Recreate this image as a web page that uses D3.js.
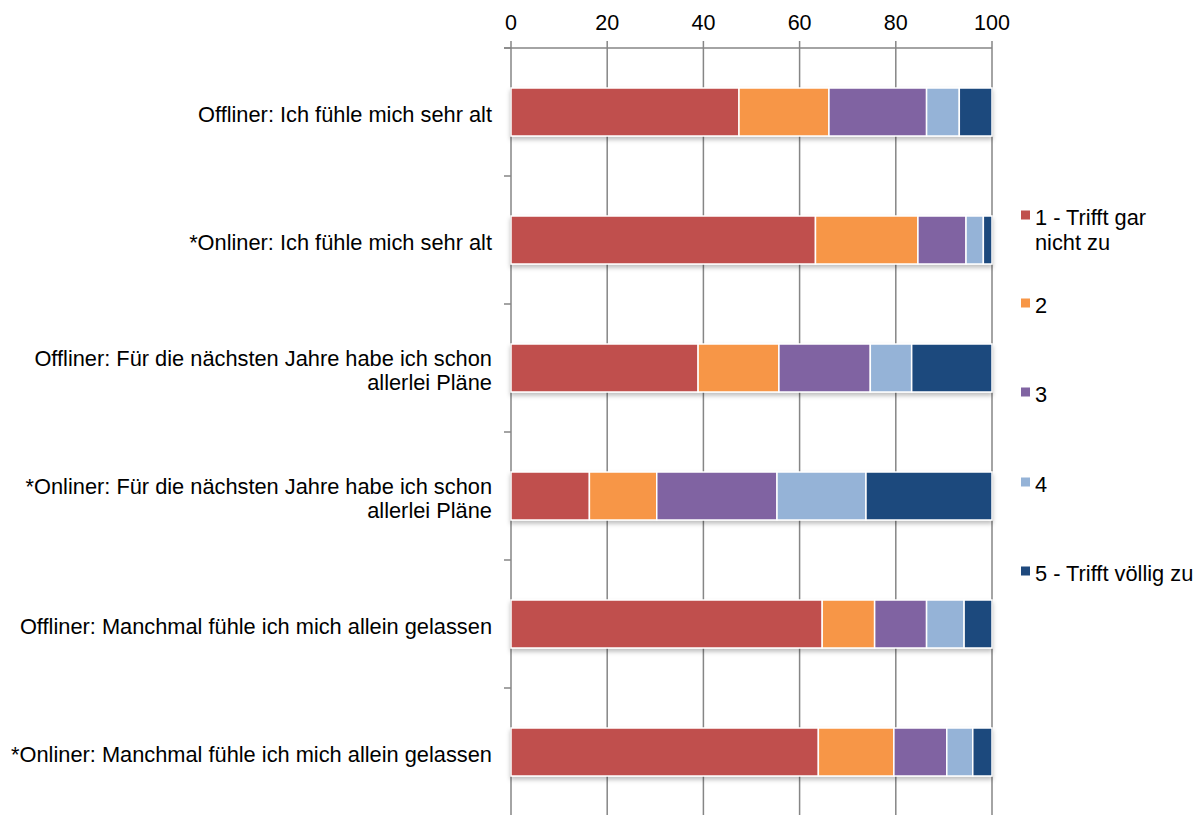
<!DOCTYPE html>
<html><head><meta charset="utf-8">
<script src="https://cdn.jsdelivr.net/npm/d3@7"></script>
<style>body{margin:0;background:#fff}svg{display:block}text{font-family:"Liberation Sans",Arial,sans-serif;fill:#000}</style>
</head><body>
<svg id="c" width="1195" height="815"></svg>
<script>
const categories = [
  "Offliner: Ich fühle mich sehr alt",
  "*Onliner: Ich fühle mich sehr alt",
  "Offliner: Für die nächsten Jahre habe ich schon|allerlei Pläne",
  "*Onliner: Für die nächsten Jahre habe ich schon|allerlei Pläne",
  "Offliner: Manchmal fühle ich mich allein gelassen",
  "*Onliner: Manchmal fühle ich mich allein gelassen"
];
const seriesNames = ["1 - Trifft gar|nicht zu", "2", "3", "4", "5 - Trifft völlig zu"];
const s1 = [47.4, 63.3, 38.9, 16.3, 64.7, 63.9];
const s2 = [18.7, 21.3, 16.8, 14.0, 10.9, 15.7];
const s3 = [20.3, 10.0, 19.0, 25.0, 10.8, 11.0];
const s4 = [6.8, 3.6, 8.6, 18.5, 7.8, 5.4];
const s5 = [6.8, 1.8, 16.7, 26.2, 5.8, 4.0];
const xTicks = [0, 20, 40, 60, 80, 100];
const colors = ["#C0504D", "#F79646", "#8064A2", "#95B3D7", "#1F497D"];

const series = [s1, s2, s3, s4, s5];
const svg = d3.select("#c");
const x = d3.scaleLinear().domain([0, 100]).range([511, 992]);
const y = d3.scaleBand().domain(categories).range([48, 816]).paddingInner(0.625).paddingOuter(0.3125);

const defs = svg.append("defs");
const f = defs.append("filter").attr("id","sh").attr("x","-5%").attr("y","-20%").attr("width","110%").attr("height","150%");
f.append("feDropShadow").attr("dx",0).attr("dy",3).attr("stdDeviation",2).attr("flood-color","#000").attr("flood-opacity",0.25);

// gridlines
svg.append("g").selectAll("line").data(xTicks).join("line")
  .attr("x1", d => x(d)).attr("x2", d => x(d)).attr("y1", 41).attr("y2", 815)
  .attr("stroke", "#868686").attr("stroke-width", 1.5);
// top axis line
svg.append("line").attr("x1", 504).attr("x2", x(100)).attr("y1", 48).attr("y2", 48)
  .attr("stroke", "#868686").attr("stroke-width", 1.5);
// tick labels
svg.append("g").selectAll("text").data(xTicks).join("text")
  .attr("x", d => x(d)).attr("y", 30).attr("text-anchor", "middle").attr("font-size", 21.5).text(d => d);

// y axis ticks at band boundaries
const step = y.step();
const bounds = d3.range(0, categories.length + 1).map(i => 48 + i * step);
svg.append("g").selectAll("line").data(bounds).join("line")
  .attr("x1", 504).attr("x2", 511).attr("y1", d => d).attr("y2", d => d)
  .attr("stroke", "#868686").attr("stroke-width", 1.5);

// stacked bars
const stacked = categories.map((c, i) => {
  let acc = 0;
  return series.map((s, k) => { const r = {c, k, x0: acc, x1: acc + s[i]}; acc += s[i]; return r; });
}).flat();
svg.append("g").attr("filter","url(#sh)").selectAll("rect").data(stacked).join("rect")
  .attr("x", d => x(d.x0)).attr("width", d => x(d.x1) - x(d.x0))
  .attr("y", d => y(d.c)).attr("height", y.bandwidth())
  .attr("fill", d => colors[d.k]).attr("stroke", "#fff").attr("stroke-width", 1.5);

// category labels
const lab = svg.append("g").selectAll("text").data(categories).join("text")
  .attr("text-anchor", "end").attr("font-size", 21.8);
lab.each(function(d) {
  const lines = d.split("|");
  const cy = y(d) + y.bandwidth() / 2;
  const t = d3.select(this);
  lines.forEach((l, i) => {
    t.append("tspan").attr("x", 492)
      .attr("y", cy + 9.5 + (i - (lines.length - 1) / 2) * 24).text(l);
  });
});

// legend
const legY = [225, 313, 402, 492, 581];
const lg = svg.append("g").selectAll("g").data(seriesNames).join("g");
lg.append("rect").attr("x", 1021).attr("y", (d, i) => legY[i] - 14.5).attr("width", 9).attr("height", 9)
  .attr("fill", (d, i) => colors[i]);
lg.append("text").attr("font-size", 21.8).each(function(d, i) {
  const t = d3.select(this);
  d.split("|").forEach((l, j) => t.append("tspan").attr("x", 1035).attr("y", legY[i] + j * 25).text(l));
});
</script>
</body></html>
